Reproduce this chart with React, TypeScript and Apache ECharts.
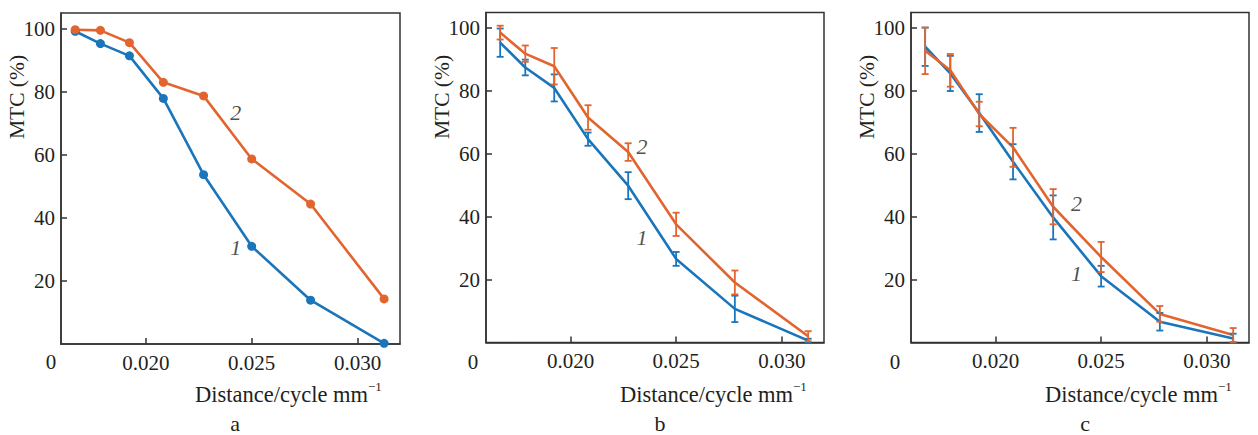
import React, { useEffect, useRef } from "react";
import * as echarts from "echarts";

// spatial frequency (cycles per mm)
const distance = [0.01667, 0.01786, 0.01923, 0.02083, 0.02273, 0.025, 0.02778, 0.03125];
const xTicks = [0.02, 0.025, 0.03];
const yTicks = [20, 40, 60, 80, 100];

// panel a
const mtcA1 = [99.2, 95.3, 91.4, 77.9, 53.7, 31.0, 13.9, 0.2];
const mtcA2 = [99.7, 99.5, 95.6, 83.0, 78.7, 58.7, 44.4, 14.3];
// panel b
const mtcB1 = [95.4, 87.5, 81.0, 64.7, 49.9, 26.6, 10.7, 0.6];
const errB1 = [4.5, 2.5, 4.3, 2.1, 4.3, 2.2, 4.2, 0.6];
const mtcB2 = [98.6, 91.9, 87.9, 71.6, 60.6, 37.6, 19.1, 2.0];
const errB2 = [2.2, 2.6, 5.8, 3.9, 2.8, 3.7, 3.8, 1.6];
// panel c
const mtcC1 = [94.1, 85.6, 73.0, 57.5, 39.8, 21.1, 6.6, 1.3];
const errC1 = [6.1, 5.6, 6.0, 5.6, 7.0, 3.3, 2.8, 1.5];
const mtcC2 = [92.8, 86.6, 72.7, 62.1, 43.2, 27.2, 9.1, 2.4];
const errC2 = [7.4, 5.2, 3.9, 6.2, 5.6, 4.8, 2.5, 2.2];

// curve number annotations [x, y]
const curveLabelA = [["1", 0.02425, 30.6], ["2", 0.02425, 73.5]];
const curveLabelB = [["1", 0.02338, 33.5], ["2", 0.02338, 62.4]];
const curveLabelC = [["1", 0.02384, 22.0], ["2", 0.02384, 44.1]];

const panelLetters = ["a", "b", "c"];

const FONT = "serif";
const BLUE = "#1a75bb";
const ORANGE = "#e2652f";
const INK = "#231f20";

const grids = [
  { left: 61, top: 13, width: 339, height: 331 },
  { left: 486, top: 12.5, width: 338, height: 330 },
  { left: 911, top: 12.5, width: 338, height: 330 },
];
const zeroX = [51, 473, 895];

function lineSeries(gi: number, values: number[], color: string, markers: boolean) {
  return {
    type: "line",
    xAxisIndex: gi,
    yAxisIndex: gi,
    data: distance.map((d, i) => [d, values[i]]),
    symbol: markers ? "circle" : "none",
    symbolSize: 9,
    showSymbol: markers,
    itemStyle: { color },
    lineStyle: { color, width: 2.6 },
    silent: true,
    z: 3,
  };
}

function errSeries(gi: number, values: number[], errs: number[], color: string) {
  return {
    type: "custom",
    xAxisIndex: gi,
    yAxisIndex: gi,
    data: distance.map((d, i) => [d, values[i], errs[i]]),
    silent: true,
    z: 4,
    renderItem: (params: any, api: any) => {
      const x = api.value(0);
      const y = api.value(1);
      const e = api.value(2);
      const top = api.coord([x, y + e]);
      const bot = api.coord([x, y - e]);
      const hw = 3.5;
      const style = { stroke: color, lineWidth: 1.8 };
      return {
        type: "group",
        children: [
          { type: "line", shape: { x1: top[0], y1: top[1], x2: bot[0], y2: bot[1] }, style },
          { type: "line", shape: { x1: top[0] - hw, y1: top[1], x2: top[0] + hw, y2: top[1] }, style },
          { type: "line", shape: { x1: bot[0] - hw, y1: bot[1], x2: bot[0] + hw, y2: bot[1] }, style },
        ],
      };
    },
  };
}

function labelSeries(gi: number, labels: any[]) {
  return {
    type: "scatter",
    xAxisIndex: gi,
    yAxisIndex: gi,
    symbolSize: 0,
    silent: true,
    data: labels.map((l) => ({ name: l[0], value: [l[1], l[2]] })),
    label: {
      show: true,
      position: "inside",
      formatter: "{b}",
      fontFamily: FONT,
      fontStyle: "italic",
      fontSize: 22,
      color: INK,
    },
    z: 5,
  };
}

export default function App() {
  const ref = useRef<HTMLDivElement>(null);
  useEffect(() => {
    document.body.style.margin = "0";
    const chart = echarts.init(ref.current!, null, { renderer: "svg" });
    const axisLineStyle = { color: "#333", width: 1.5 };
    const txt = (size: number) => ({ fontFamily: FONT, fontSize: size, fill: INK });
    const option: any = {
      animation: false,
      backgroundColor: "#fff",
      textStyle: { fontFamily: FONT },
      grid: grids.map((g) => ({ ...g, show: true, borderColor: "#333", borderWidth: 1.5, backgroundColor: "transparent" })),
      xAxis: grids.map((_, i) => ({
        type: "value",
        gridIndex: i,
        min: 0.016,
        max: 0.032,
        axisLine: { show: true, lineStyle: axisLineStyle },
        axisTick: { show: true, inside: true, length: 6, customValues: xTicks, lineStyle: axisLineStyle },
        axisLabel: {
          customValues: xTicks,
          formatter: (v: number) => v.toFixed(3),
          fontFamily: FONT,
          fontSize: 21,
          color: INK,
          margin: 8,
        },
        splitLine: { show: false },
      })),
      yAxis: grids.map((_, i) => ({
        type: "value",
        gridIndex: i,
        min: 0,
        max: 105,
        axisLine: { show: true, lineStyle: axisLineStyle },
        axisTick: { show: true, inside: true, length: 6, customValues: yTicks, lineStyle: axisLineStyle },
        axisLabel: {
          customValues: yTicks,
          fontFamily: FONT,
          fontSize: 21,
          color: INK,
          margin: 6,
        },
        splitLine: { show: false },
      })),
      series: [
        lineSeries(0, mtcA1, BLUE, true),
        lineSeries(0, mtcA2, ORANGE, true),
        labelSeries(0, curveLabelA),
        lineSeries(1, mtcB1, BLUE, false),
        lineSeries(1, mtcB2, ORANGE, false),
        errSeries(1, mtcB1, errB1, BLUE),
        errSeries(1, mtcB2, errB2, ORANGE),
        labelSeries(1, curveLabelB),
        lineSeries(2, mtcC1, BLUE, false),
        lineSeries(2, mtcC2, ORANGE, false),
        errSeries(2, mtcC1, errC1, BLUE),
        errSeries(2, mtcC2, errC2, ORANGE),
        labelSeries(2, curveLabelC),
      ],
      graphic: grids.flatMap((g, i) => [
        {
          type: "text",
          x: g.left - 44,
          y: 97,
          rotation: Math.PI / 2,
          style: { text: "MTC (%)", ...txt(21.5), align: "center", verticalAlign: "middle" },
        },
        {
          type: "text",
          x: zeroX[i],
          y: 362,
          style: { text: "0", ...txt(21), align: "center", verticalAlign: "middle" },
        },
        {
          type: "text",
          x: g.left + 307,
          y: 394,
          style: { text: "Distance/cycle mm", ...txt(22.5), align: "right", verticalAlign: "middle" },
        },
        {
          type: "text",
          x: g.left + 307,
          y: 386,
          style: { text: "\u22121", ...txt(13), align: "left", verticalAlign: "middle" },
        },
        {
          type: "text",
          x: g.left + 174,
          y: 423,
          style: { text: panelLetters[i], ...txt(22), align: "center", verticalAlign: "middle" },
        },
      ]),
    };
    chart.setOption(option);
    return () => chart.dispose();
  }, []);
  return <div ref={ref} style={{ width: 1258, height: 435 }} />;
}
